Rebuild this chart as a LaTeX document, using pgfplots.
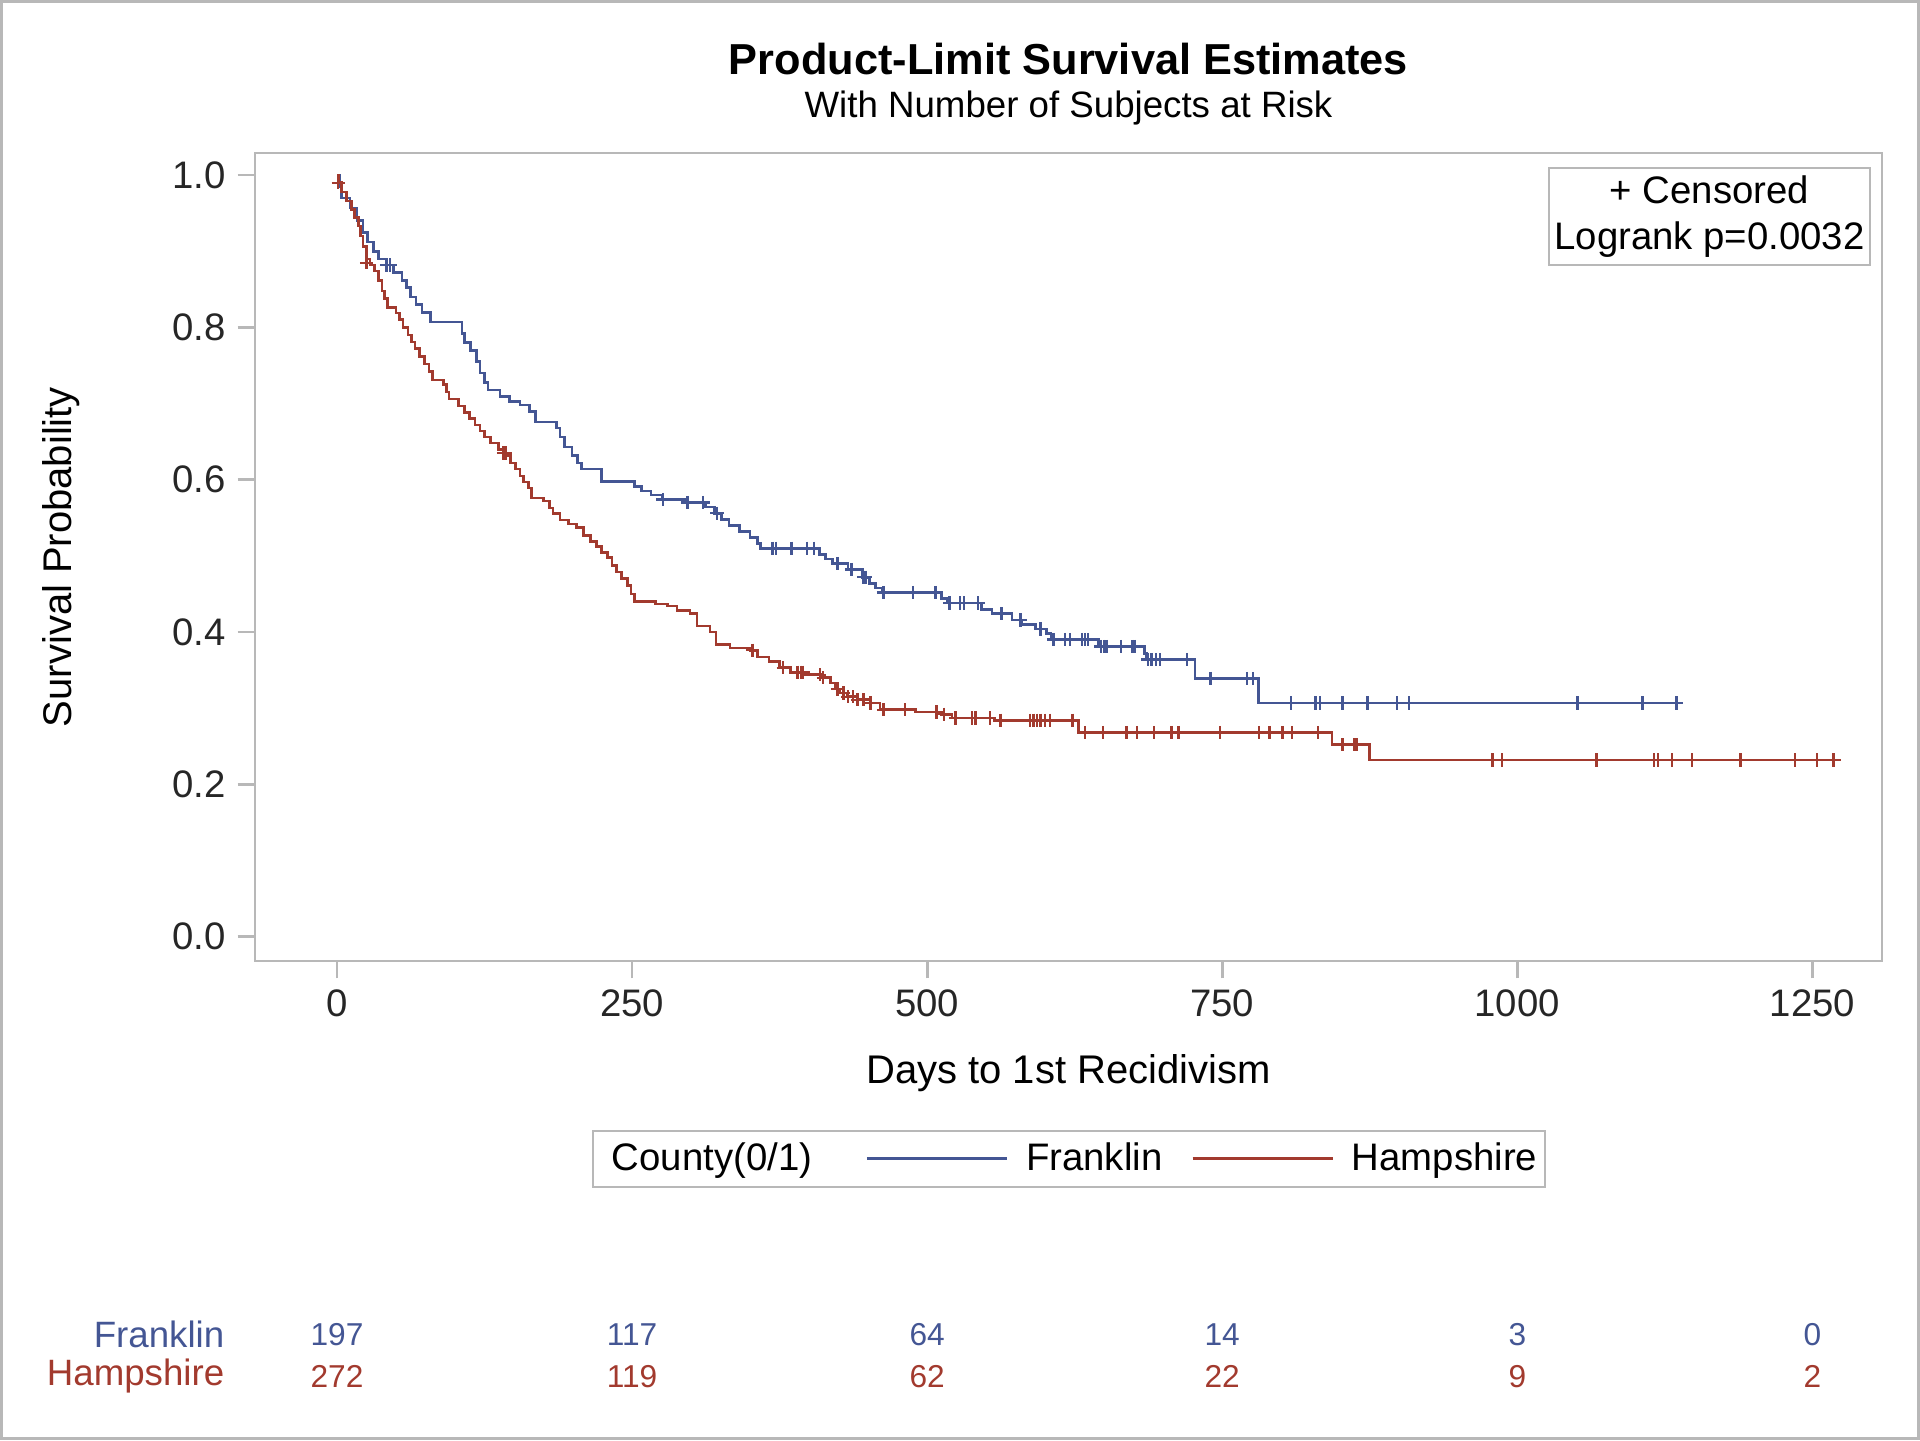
\documentclass[border=0pt]{standalone}
\usepackage{pgfplots}
\pgfplotsset{compat=1.18}
\usepackage{fontspec}
\setmainfont{Liberation Sans}
\definecolor{fblue}{HTML}{445694}
\definecolor{hred}{HTML}{A23A2E}
\definecolor{framegray}{HTML}{B8B8B8}
\begin{document}
\begin{tikzpicture}
\useasboundingbox (-76.5pt,-143.7pt) rectangle (499.5pt,288.3pt);
\draw[framegray, line width=0.8pt] (-76.1pt,-143.3pt) rectangle (499.1pt,287.9pt);
\node[font=\fontsize{13}{15}\selectfont\bfseries] at (244.05pt,270.6pt) {Product-Limit Survival Estimates};
\node[font=\fontsize{11}{13}\selectfont] at (244.05pt,255.9pt) {With Number of Subjects at Risk};
\begin{axis}[
  at={(0,0)}, anchor=south west, scale only axis,
  width=488.1pt, height=242.4pt,
  xmin=-69.5, xmax=1309, ymin=-0.032, ymax=1.029,
  xtick={0,250,500,750,1000,1250}, ytick={0,0.2,0.4,0.6,0.8,1},
  xtick pos=lower, ytick pos=left, tick align=outside,
  major tick length=5.2pt,
  axis line style={framegray, line width=0.8pt},
  tick style={framegray, line width=0.8pt},
  /pgf/number format/assume math mode=true,
  ticklabel style={font=\fontsize{11.5}{13}\selectfont, text=black!85},
  yticklabel style={/pgf/number format/fixed, /pgf/number format/fixed zerofill, /pgf/number format/precision=1},
  xticklabel style={/pgf/number format/1000 sep={}},
  clip=false,
  legend columns=-1,
  legend style={at={(0.5003,-0.245)}, anchor=center, draw=framegray, line width=0.6pt,
    font=\fontsize{11.5}{14}\selectfont, inner xsep=0.5pt, inner ysep=1.5pt,
    /tikz/every odd column/.append style={column sep=3.3pt},
    /tikz/every even column/.append style={column sep=6.6pt}},
  legend image code/.code={\draw[#1, line width=0.9pt] (0pt,0pt) -- (42pt,0pt);},
]
\addlegendimage{empty legend}
\addlegendentry{County(0/1)\kern7.4pt}
\addplot[const plot, fblue, line width=0.8pt] coordinates {
(0,1.0) (2,0.985) (4,0.97) (11,0.957) (17,0.94) (22,0.925) (26,0.912) (31,0.900) (35,0.890)
(42,0.882) (48,0.872) (55,0.862) (59,0.852) (62,0.840) (67,0.830) (72,0.820) (79,0.807)
(106,0.792) (108,0.78) (113,0.770) (118,0.755) (121,0.740) (125,0.728) (128,0.718) (138,0.709)
(146,0.703) (155,0.698) (163,0.69) (168,0.676) (186,0.668) (189,0.656) (193,0.643) (199,0.632)
(204,0.622) (207,0.614) (224,0.598) (252,0.591) (258,0.585) (266,0.580) (276,0.574) (296,0.570)
(312,0.564) (320,0.556) (326,0.548) (332,0.540) (341,0.532) (350,0.524) (356,0.516) (359,0.510)
(409,0.502) (414,0.496) (420,0.490) (433,0.482) (445,0.472) (451,0.464) (456,0.458) (462,0.452)
(512,0.444) (517,0.438) (546,0.430) (555,0.424) (572,0.416) (580,0.410) (592,0.404) (601,0.398)
(605,0.390) (645,0.381) (684,0.372) (686,0.364) (727,0.339) (781,0.307) (1140,0.307)
};
\addlegendentry{Franklin}
\addplot[only marks, mark=+, mark size=2pt, fblue, mark options={line width=0.7pt}, forget plot] coordinates {
(42,0.882) (45,0.882) (276,0.574) (297,0.570) (310,0.570) (322,0.556)
(369,0.510) (372,0.510) (385,0.510) (398,0.510) (404,0.510) (424,0.490) (436,0.482) (446,0.472)
(448,0.472) (463,0.452) (488,0.452) (507,0.452) (519,0.438) (528,0.438) (531,0.438) (543,0.438)
(563,0.424) (579,0.416) (596,0.404) (607,0.390) (617,0.390) (621,0.390) (631,0.390) (634,0.390)
(636,0.390) (647,0.381) (650,0.381) (652,0.381) (664,0.381) (674,0.381) (676,0.381) (687,0.364)
(690,0.364) (694,0.364) (697,0.364) (720,0.364) (740,0.339) (771,0.339) (776,0.339) (808,0.307)
(829,0.307) (833,0.307) (852,0.307) (873,0.307) (898,0.307) (908,0.307) (1051,0.307) (1106,0.307)
(1135,0.307)
};
\addplot[const plot, hred, line width=0.8pt] coordinates {
(0,1.0) (1,0.99) (4,0.978) (8,0.966) (12,0.955) (15,0.944) (18,0.933) (20,0.920) (22,0.906)
(25,0.89) (28,0.882) (32,0.874) (35,0.862) (38,0.848) (40,0.838) (43,0.826) (50,0.819) (53,0.81)
(56,0.80) (60,0.79) (63,0.781) (66,0.772) (70,0.762) (74,0.752) (78,0.742) (81,0.731) (90,0.725)
(93,0.715) (95,0.706) (103,0.697) (108,0.688) (112,0.680) (117,0.672) (121,0.664) (125,0.656)
(130,0.648) (137,0.640) (142,0.632) (147,0.622) (151,0.614) (155,0.605) (158,0.597) (162,0.589)
(165,0.576) (175,0.572) (180,0.563) (183,0.556) (189,0.547) (196,0.542) (203,0.537) (209,0.527)
(215,0.519) (220,0.512) (224,0.504) (229,0.498) (233,0.487) (237,0.479) (241,0.470) (246,0.461)
(249,0.450) (252,0.440) (270,0.437) (280,0.434) (288,0.428) (299,0.424) (305,0.408) (316,0.400)
(321,0.384) (333,0.379) (350,0.376) (356,0.367) (366,0.361) (375,0.353) (384,0.347) (396,0.344)
(410,0.340) (418,0.333) (422,0.325) (426,0.32) (432,0.315) (441,0.311) (452,0.307) (460,0.298)
(490,0.295) (512,0.292) (521,0.287) (557,0.284) (628,0.268) (843,0.252) (875,0.232) (1274,0.232)
};
\addlegendentry{Hampshire}
\addplot[only marks, mark=+, mark size=2pt, hred, mark options={line width=0.7pt}, forget plot] coordinates {
(1,0.99) (25,0.885) (141,0.635) (143,0.635)
(352,0.376) (378,0.353) (390,0.347) (393,0.347) (395,0.347) (409,0.344) (412,0.340) (424,0.325)
(429,0.320) (433,0.315) (437,0.315) (441,0.311) (446,0.311) (452,0.307) (463,0.298) (481,0.298)
(508,0.295) (514,0.292) (524,0.287) (538,0.287) (541,0.287) (553,0.287) (562,0.284) (587,0.284)
(590,0.284) (593,0.284) (596,0.284) (600,0.284) (604,0.284) (623,0.284) (634,0.268) (649,0.268)
(669,0.268) (678,0.268) (692,0.268) (707,0.268) (713,0.268) (748,0.268) (781,0.268) (790,0.268)
(801,0.268) (809,0.268) (831,0.268) (852,0.252) (862,0.252) (864,0.252) (979,0.232) (987,0.232)
(1067,0.232) (1116,0.232) (1119,0.232) (1131,0.232) (1148,0.232) (1189,0.232) (1235,0.232)
(1254,0.232) (1268,0.232)
};
% axis labels
\node[rotate=90, font=\fontsize{12}{14}\selectfont] at ([xshift=-58.1pt]rel axis cs:0,0.5) {Survival Probability};
\node[font=\fontsize{12}{14}\selectfont] at ([yshift=-33.6pt]rel axis cs:0.5,0) {Days to 1st Recidivism};
% censored box
\node[anchor=north east, draw=framegray, line width=0.6pt, align=center, minimum width=96.3pt,
  minimum height=29.3pt, inner sep=1pt, font=\fontsize{11.5}{14}\selectfont]
  at ([xshift=-3.3pt,yshift=-4.1pt]rel axis cs:1,1) {+ Censored\\Logrank p=0.0032};
% at-risk table
\node[anchor=east, fblue, font=\fontsize{11}{13}\selectfont] at ([xshift=-5.7pt,yshift=-112.1pt]rel axis cs:0,0) {Franklin};
\node[anchor=east, hred, font=\fontsize{11}{13}\selectfont] at ([xshift=-5.7pt,yshift=-124.6pt]rel axis cs:0,0) {Hampshire};
\node[fblue, font=\fontsize{9.5}{11}\selectfont] at (axis cs:0,-0.5227) {197};
\node[fblue, font=\fontsize{9.5}{11}\selectfont] at (axis cs:250,-0.5227) {117};
\node[fblue, font=\fontsize{9.5}{11}\selectfont] at (axis cs:500,-0.5227) {64};
\node[fblue, font=\fontsize{9.5}{11}\selectfont] at (axis cs:750,-0.5227) {14};
\node[fblue, font=\fontsize{9.5}{11}\selectfont] at (axis cs:1000,-0.5227) {3};
\node[fblue, font=\fontsize{9.5}{11}\selectfont] at (axis cs:1250,-0.5227) {0};
\node[hred, font=\fontsize{9.5}{11}\selectfont] at (axis cs:0,-0.5774) {272};
\node[hred, font=\fontsize{9.5}{11}\selectfont] at (axis cs:250,-0.5774) {119};
\node[hred, font=\fontsize{9.5}{11}\selectfont] at (axis cs:500,-0.5774) {62};
\node[hred, font=\fontsize{9.5}{11}\selectfont] at (axis cs:750,-0.5774) {22};
\node[hred, font=\fontsize{9.5}{11}\selectfont] at (axis cs:1000,-0.5774) {9};
\node[hred, font=\fontsize{9.5}{11}\selectfont] at (axis cs:1250,-0.5774) {2};
\end{axis}
\end{tikzpicture}
\end{document}
